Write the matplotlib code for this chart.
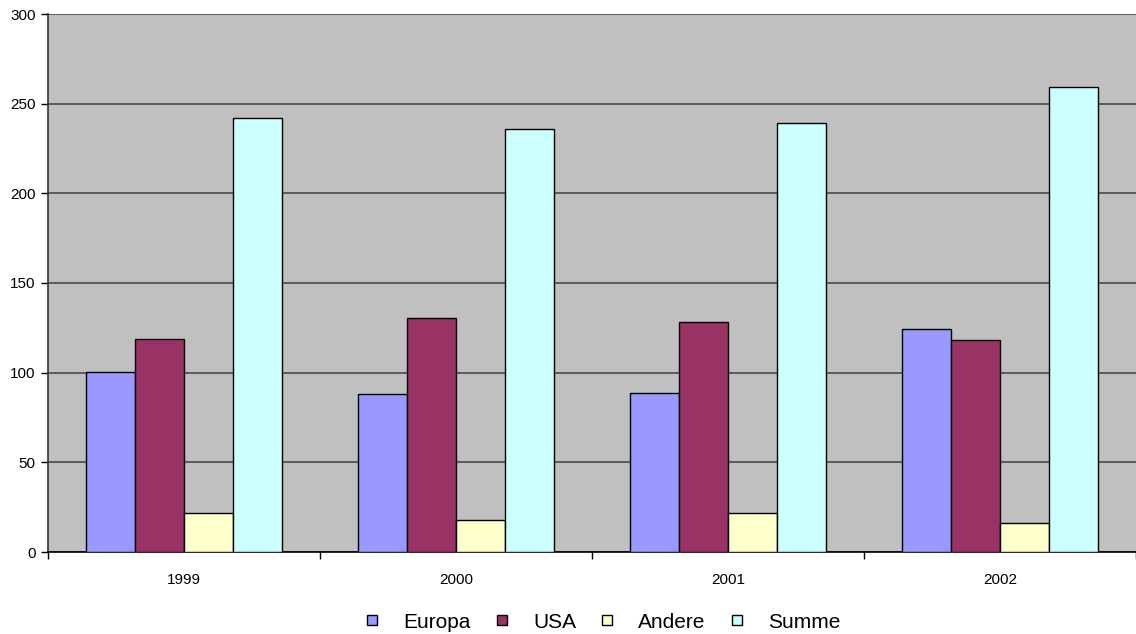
import matplotlib.pyplot as plt
import numpy as np
from matplotlib.lines import Line2D

plt.rcParams['font.family'] = ['Liberation Sans', 'DejaVu Sans']

jahre = ['1999', '2000', '2001', '2002']
europa = [100.5, 88.2, 88.7, 124.4]
usa = [118.8, 130.5, 128.3, 118.2]
andere = [21.8, 17.8, 21.8, 16.2]
summe = [242.1, 236.0, 239.3, 259.3]

reihen = ['Europa', 'USA', 'Andere', 'Summe']
farben = ['#9999FF', '#993366', '#FFFFCC', '#CCFFFF']

fig = plt.figure(figsize=(11.36, 6.34), dpi=100)
ax = fig.add_axes([48 / 1136, 1 - 552 / 634, 1 - 48 / 1136, (552 - 14) / 634])
ax.set_facecolor('#C0C0C0')

x = np.arange(len(jahre))
breite = 0.18
for i, (werte, farbe) in enumerate(zip([europa, usa, andere, summe], farben)):
    ax.bar(x + (i - 1.5) * breite, werte, breite, color=farbe,
           edgecolor='black', linewidth=1, zorder=3)

ax.set_xlim(-0.5, 3.5)
ax.set_ylim(0, 300)
ax.set_yticks(range(0, 301, 50))
ax.yaxis.grid(True, color='#4a4a4a', linewidth=1.2, zorder=1)

ax.set_xticks(x)
ax.set_xticklabels(jahre)
ax.set_xticks(np.arange(-0.5, 4.0, 1.0), minor=True)
ax.tick_params(axis='x', which='major', length=0, pad=15, labelsize=11)
ax.tick_params(axis='x', which='minor', length=5, width=1, color='black')
ax.tick_params(axis='y', length=5, width=1, color='black', labelsize=11, pad=4)

for s in ['top', 'right']:
    ax.spines[s].set_visible(False)
ax.spines['left'].set_color('#333333')
ax.spines['bottom'].set_color('black')
ax.spines['left'].set_linewidth(1.2)
ax.spines['bottom'].set_linewidth(1.2)

griffe = [Line2D([0], [0], marker='s', linestyle='none', markersize=7,
                 markerfacecolor=f, markeredgecolor='black', markeredgewidth=1)
          for f in farben]
fig.legend(griffe, reihen, loc='center', bbox_to_anchor=(601 / 1136, 1 - 622 / 634),
           ncol=4, frameon=False, fontsize=15, handletextpad=1.0,
           columnspacing=1.0, handlelength=1.0)

fig.savefig('out.png', dpi=100)
